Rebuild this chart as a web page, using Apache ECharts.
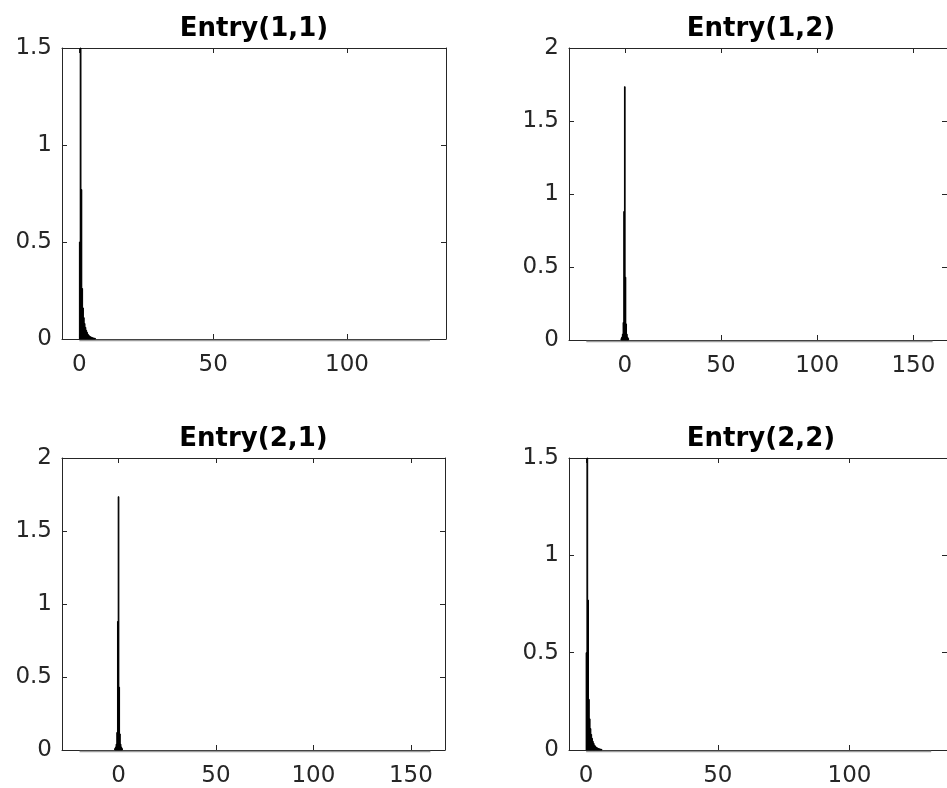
<!DOCTYPE html>
<html>
<head>
<meta charset="utf-8">
<script src="https://cdn.jsdelivr.net/npm/echarts@6/dist/echarts.min.js"></script>
<style>
  html, body { margin: 0; padding: 0; background: #fff; }
  #chart { width: 947px; height: 788px; }
</style>
</head>
<body>
<div id="chart"></div>
<script>
// ---------------- data ----------------
const panelTitles = ['Entry(1,1)', 'Entry(1,2)', 'Entry(2,1)', 'Entry(2,2)'];

// axis limits
const xLimDiag = [-6.5, 137];
const xLimOff = [-29, 167.5];
const yMaxDiag = 1.5;
const yMaxOff = 2;

// tick labels
const xTicksDiag = [0, 50, 100];
const xTicksOff = [0, 50, 100, 150];
const yTicksDiag = [0, 0.5, 1, 1.5];
const yTicksOff = [0, 0.5, 1, 1.5, 2];

// histogram of diagonal entries (pdf normalisation), bins from diagBinStart
const diagBinStart = 0;
const diagBinWidth = 0.3;
const diagHeights = [0.5, 1.9, 0.77, 0.26, 0.16, 0.11, 0.08, 0.06, 0.045, 0.035,
                     0.025, 0.02, 0.015, 0.012, 0.01, 0.008, 0.006, 0.005, 0.004, 0.003];
const diagSupport = [0, 131];   // first and last bin edge

// histogram of off-diagonal entries
const offBinStart = -1.98;
const offBinWidth = 0.36;
const offHeights = [0.01, 0.02, 0.04, 0.12, 0.88, 1.735, 0.43, 0.11, 0.04, 0.02, 0.01];
const offSupport = [-20, 160];

// ---------------- styling / layout ----------------
const FONT = 'DejaVu Sans';
const AXIS_COLOR = '#262626';
const grids = [
  { left: 62,  top: 48,  width: 384, height: 291 },
  { left: 569, top: 48,  width: 384, height: 292 },
  { left: 62,  top: 458, width: 383, height: 292 },
  { left: 569, top: 458, width: 384, height: 292 }
];
const isDiag = [true, false, false, true];

function binsToData(start, width, heights) {
  return heights.map((h, i) => [start + i * width, start + (i + 1) * width, h]);
}

function renderBins(params, api) {
  const p0 = api.coord([api.value(0), 0]);
  const p1 = api.coord([api.value(1), api.value(2)]);
  const cs = params.coordSys;
  const rect = echarts.graphic.clipRectByRect(
    { x: p0[0], y: p1[1], width: p1[0] - p0[0], height: p0[1] - p1[1] },
    { x: cs.x, y: cs.y, width: cs.width, height: cs.height }
  );
  if (!rect) return;
  return {
    type: 'rect',
    shape: rect,
    style: { fill: '#000', stroke: '#000', lineWidth: 1 }
  };
}

function renderBaseline(params, api) {
  const a = api.coord([api.value(0), 0]);
  const b = api.coord([api.value(1), 0]);
  return {
    type: 'line',
    shape: { x1: a[0], y1: a[1] + 1.5, x2: b[0], y2: b[1] + 1.5 },
    style: { stroke: '#9c9c9c', lineWidth: 1.5 }
  };
}

const xAxes = [], yAxes = [], series = [], titles = [];
grids.forEach((g, k) => {
  const diag = isDiag[k];
  const xl = diag ? xLimDiag : xLimOff;
  const xt = diag ? xTicksDiag : xTicksOff;
  const ym = diag ? yMaxDiag : yMaxOff;
  const yt = diag ? yTicksDiag : yTicksOff;
  const common = {
    type: 'value', gridIndex: k, splitLine: { show: false },
    axisLine: { show: true, onZero: false, lineStyle: { color: AXIS_COLOR, width: 1 } }
  };
  xAxes.push(Object.assign({}, common, {
    position: 'bottom', min: xl[0], max: xl[1],
    axisTick: { show: true, inside: true, length: 5, customValues: xt, lineStyle: { color: AXIS_COLOR } },
    axisLabel: { show: true, customValues: xt, margin: 15, color: AXIS_COLOR, fontSize: 23, fontFamily: FONT }
  }));
  xAxes.push(Object.assign({}, common, {
    position: 'top', min: xl[0], max: xl[1],
    axisTick: { show: true, inside: true, length: 5, customValues: xt, lineStyle: { color: AXIS_COLOR } },
    axisLabel: { show: false }
  }));
  yAxes.push(Object.assign({}, common, {
    position: 'left', min: 0, max: ym, interval: 0.5,
    axisTick: { show: true, inside: true, length: 5, customValues: yt, lineStyle: { color: AXIS_COLOR } },
    axisLabel: { show: true, customValues: yt, margin: 10, color: AXIS_COLOR, fontSize: 23, fontFamily: FONT }
  }));
  yAxes.push(Object.assign({}, common, {
    position: 'right', min: 0, max: ym, interval: 0.5,
    axisTick: { show: true, inside: true, length: 5, customValues: yt, lineStyle: { color: AXIS_COLOR } },
    axisLabel: { show: false }
  }));
  series.push({
    type: 'custom', xAxisIndex: 2 * k, yAxisIndex: 2 * k, z: 3,
    renderItem: renderBaseline, silent: true,
    data: [diag ? diagSupport : offSupport]
  });
  series.push({
    type: 'custom', xAxisIndex: 2 * k, yAxisIndex: 2 * k, z: 4,
    renderItem: renderBins, silent: true,
    data: diag ? binsToData(diagBinStart, diagBinWidth, diagHeights)
               : binsToData(offBinStart, offBinWidth, offHeights)
  });
  titles.push({
    text: panelTitles[k],
    left: g.left + g.width / 2,
    textAlign: 'center',
    top: g.top - 32,
    padding: 0,
    textStyle: { fontFamily: FONT, fontSize: 26, fontWeight: 'bold', color: '#000' }
  });
});

const chart = echarts.init(document.getElementById('chart'), null, { renderer: 'canvas' });
chart.setOption({
  animation: false,
  backgroundColor: '#fff',
  title: titles,
  grid: grids.map(g => Object.assign({ show: false, containLabel: false }, g)),
  xAxis: xAxes,
  yAxis: yAxes,
  series: series
});
</script>
</body>
</html>
